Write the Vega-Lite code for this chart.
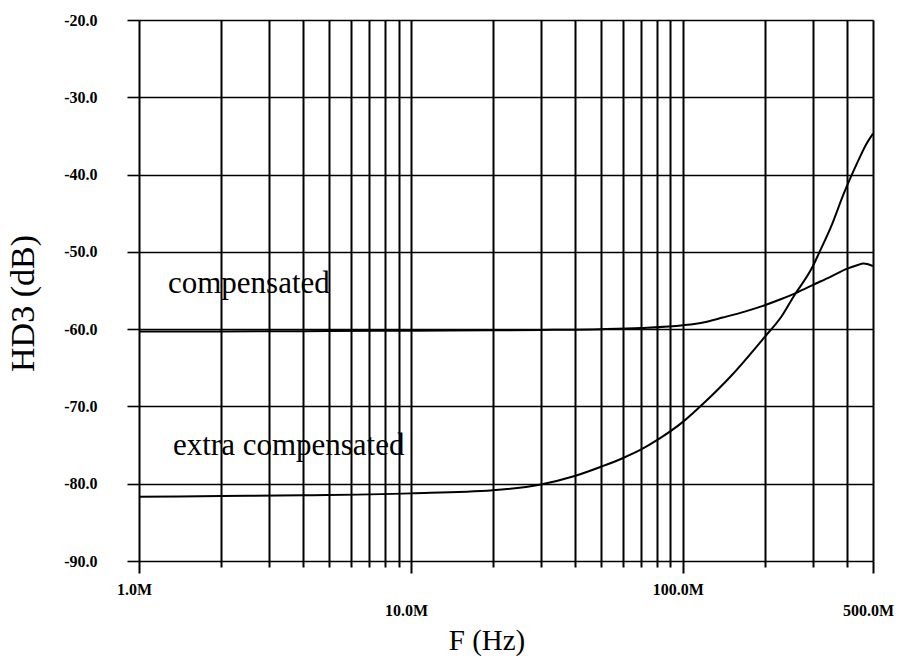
{
  "$schema": "https://vega.github.io/schema/vega-lite/v6.json",
  "width": 734,
  "height": 541,
  "autosize": "none",
  "padding": {"left": 139, "top": 20, "right": 26, "bottom": 99},
  "background": "white",
  "config": {"view": {"stroke": null}},
  "datasets": {
    "curves": [
      {"series": "compensated", "F": 1000000, "HD3": -60.3},
      {"series": "compensated", "F": 2000000, "HD3": -60.3},
      {"series": "compensated", "F": 5000000, "HD3": -60.25},
      {"series": "compensated", "F": 10000000, "HD3": -60.2},
      {"series": "compensated", "F": 20000000, "HD3": -60.15},
      {"series": "compensated", "F": 30000000, "HD3": -60.1},
      {"series": "compensated", "F": 50000000, "HD3": -60.0},
      {"series": "compensated", "F": 70000000, "HD3": -59.85},
      {"series": "compensated", "F": 100000000, "HD3": -59.5},
      {"series": "compensated", "F": 120000000, "HD3": -59.1},
      {"series": "compensated", "F": 140000000, "HD3": -58.5},
      {"series": "compensated", "F": 170000000, "HD3": -57.7},
      {"series": "compensated", "F": 200000000, "HD3": -56.9},
      {"series": "compensated", "F": 230000000, "HD3": -56.1},
      {"series": "compensated", "F": 265000000, "HD3": -55.2},
      {"series": "compensated", "F": 300000000, "HD3": -54.3},
      {"series": "compensated", "F": 350000000, "HD3": -53.2},
      {"series": "compensated", "F": 400000000, "HD3": -52.2},
      {"series": "compensated", "F": 440000000, "HD3": -51.7},
      {"series": "compensated", "F": 460000000, "HD3": -51.5},
      {"series": "compensated", "F": 480000000, "HD3": -51.6},
      {"series": "compensated", "F": 500000000, "HD3": -51.85},
      {"series": "extra", "F": 1000000, "HD3": -81.7},
      {"series": "extra", "F": 2000000, "HD3": -81.6},
      {"series": "extra", "F": 4000000, "HD3": -81.5},
      {"series": "extra", "F": 10000000, "HD3": -81.25},
      {"series": "extra", "F": 20000000, "HD3": -80.85},
      {"series": "extra", "F": 30000000, "HD3": -80.1},
      {"series": "extra", "F": 40000000, "HD3": -79.0},
      {"series": "extra", "F": 50000000, "HD3": -77.8},
      {"series": "extra", "F": 60000000, "HD3": -76.7},
      {"series": "extra", "F": 70000000, "HD3": -75.6},
      {"series": "extra", "F": 80000000, "HD3": -74.4},
      {"series": "extra", "F": 100000000, "HD3": -72.0},
      {"series": "extra", "F": 120000000, "HD3": -69.5},
      {"series": "extra", "F": 150000000, "HD3": -66.1},
      {"series": "extra", "F": 200000000, "HD3": -61.0},
      {"series": "extra", "F": 230000000, "HD3": -58.4},
      {"series": "extra", "F": 255000000, "HD3": -55.8},
      {"series": "extra", "F": 300000000, "HD3": -51.9},
      {"series": "extra", "F": 320000000, "HD3": -49.8},
      {"series": "extra", "F": 350000000, "HD3": -46.8},
      {"series": "extra", "F": 390000000, "HD3": -42.5},
      {"series": "extra", "F": 440000000, "HD3": -38.3},
      {"series": "extra", "F": 470000000, "HD3": -36.2},
      {"series": "extra", "F": 500000000, "HD3": -34.7}
    ],
    "labels": [
      {"F": 1278000, "HD3": -55.27, "label": "compensated"},
      {"F": 1333000, "HD3": -76.26, "label": "extra compensated"}
    ]
  },
  "layer": [
    {
      "data": {"name": "curves"},
      "mark": {"type": "line", "color": "black", "strokeWidth": 2, "interpolate": "monotone"},
      "encoding": {
        "x": {
          "field": "F",
          "type": "quantitative",
          "scale": {"type": "log", "domain": [1000000, 500000000], "nice": false},
          "axis": {
            "title": "F (Hz)",
            "titleFont": "Liberation Serif",
            "titleFontSize": 29,
            "titleFontWeight": "normal",
            "titleColor": "black",
            "titleX": 347.5,
            "titleY": 88,
            "titleAlign": "center",
            "titleBaseline": "alphabetic",
            "values": [1000000, 2000000, 3000000, 4000000, 5000000, 6000000, 7000000, 8000000, 9000000, 10000000, 20000000, 30000000, 40000000, 50000000, 60000000, 70000000, 80000000, 90000000, 100000000, 200000000, 300000000, 400000000, 500000000],
            "grid": true,
            "gridColor": "black",
            "gridWidth": 2,
            "gridOpacity": 1,
            "domain": false,
            "ticks": true,
            "tickColor": "black",
            "tickWidth": 2,
            "tickSize": {"condition": {"test": "datum.value == 1000000 || datum.value == 10000000 || datum.value == 100000000 || datum.value == 500000000", "value": 12}, "value": 6},
            "labelExpr": "datum.value == 1000000 ? '1.0M' : datum.value == 10000000 ? '10.0M' : datum.value == 100000000 ? '100.0M' : datum.value == 500000000 ? '500.0M' : ''",
            "labelFont": "Liberation Serif",
            "labelFontSize": 16,
            "labelFontWeight": "bold",
            "labelColor": "black",
            "labelBaseline": "top",
            "labelAlign": "center",
            "labelOffset": -5,
            "labelPadding": {"condition": {"test": "datum.value == 10000000 || datum.value == 500000000", "value": 29}, "value": 8},
            "labelOverlap": false,
            "labelBound": false,
            "labelFlush": false
          }
        },
        "y": {
          "field": "HD3",
          "type": "quantitative",
          "scale": {"domain": [-90, -20], "nice": false, "zero": false},
          "axis": {
            "title": "HD3 (dB)",
            "titleFont": "Liberation Serif",
            "titleFontSize": 34,
            "titleFontWeight": "normal",
            "titleColor": "black",
            "titleAngle": -90,
            "titleX": -106,
            "titleY": 283,
            "titleAlign": "center",
            "titleBaseline": "alphabetic",
            "values": [-90, -80, -70, -60, -50, -40, -30, -20],
            "labelExpr": "'-' + format(-datum.value, '.1f')",
            "grid": true,
            "gridColor": "black",
            "gridWidth": 1.6,
            "gridOpacity": 1,
            "domain": false,
            "ticks": true,
            "tickColor": "black",
            "tickWidth": 1.6,
            "tickSize": 12,
            "labelFont": "Liberation Serif",
            "labelFontSize": 16,
            "labelFontWeight": "bold",
            "labelColor": "black",
            "labelPadding": 30,
            "labelOverlap": false,
            "labelBound": false,
            "labelFlush": false
          }
        },
        "detail": {"field": "series", "type": "nominal"}
      }
    },
    {
      "data": {"name": "labels"},
      "mark": {"type": "text", "align": "left", "baseline": "alphabetic", "font": "Liberation Serif", "fontSize": 31, "color": "black"},
      "encoding": {
        "x": {"field": "F", "type": "quantitative"},
        "y": {"field": "HD3", "type": "quantitative"},
        "text": {"field": "label", "type": "nominal"}
      }
    }
  ]
}
